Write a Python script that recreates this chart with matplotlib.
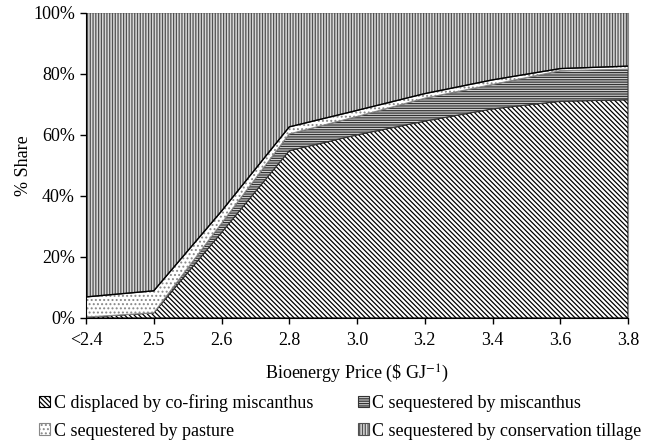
import numpy as np
import matplotlib
matplotlib.use('Agg')
import matplotlib.pyplot as plt

plt.rcParams['font.family'] = ['Liberation Serif', 'DejaVu Serif']
plt.rcParams['mathtext.fontset'] = 'stix'
plt.rcParams['hatch.linewidth'] = 0.9

# bioenergy price categories
prices = ['<2.4', '2.5', '2.6', '2.8', '3.0', '3.2', '3.4', '3.6', '3.8']
# % share for each carbon source (stacked from bottom)
cofiring = [0.3, 1.7, 28, 54.8, 60, 64.5, 68.5, 71, 71.5]
miscanthus = [0, 0, 3, 5.5, 6, 7.5, 8, 10, 10]
pasture = [6.6, 7.2, 4, 2.3, 2, 1.5, 1.5, 0.7, 1]
labels = ['C displaced by co-firing miscanthus', 'C sequestered by miscanthus',
          'C sequestered by pasture', 'C sequestered by conservation tillage']

x = np.arange(len(prices))
bottom1 = np.array(cofiring)
bottom2 = bottom1 + np.array(miscanthus)
bottom3 = bottom2 + np.array(pasture)

fig = plt.figure(figsize=(6.51, 4.43), dpi=100)
ax = fig.add_axes([0.1321, 0.2822, 0.8326, 0.6891])

h1 = ax.fill_between(x, 0, bottom1, facecolor='white', edgecolor='black', hatch='\\\\\\\\\\\\\\', lw=0.8)
h2 = ax.fill_between(x, bottom1, bottom2, facecolor='#d0d0d0', edgecolor='#333333', hatch='-------', lw=0.8)
h3 = ax.fill_between(x, bottom2, bottom3, facecolor='white', edgecolor='#888888', hatch='....', lw=0.8)
h4 = ax.fill_between(x, bottom3, 100, facecolor='#dadada', edgecolor='#505050', hatch='||||||', lw=0.8)
ax.plot(x, bottom3, color='black', lw=1)

ax.set_xlim(0, len(prices) - 1)
ax.set_ylim(0, 100)
ax.set_xticks(x)
ax.set_xticklabels(prices, fontsize=13)
ax.set_yticks(np.arange(0, 101, 20))
ax.set_yticklabels([str(v) + '%' for v in range(0, 101, 20)], fontsize=13)
ax.tick_params(direction='out', length=4, width=1, pad=4)
ax.tick_params(axis='x', pad=6)
ax.spines['top'].set_visible(False)
ax.spines['right'].set_color('#888888')
ax.set_ylabel('% Share', fontsize=13, labelpad=1)
ax.set_xlabel('Bioenergy Price (\\$ GJ$^{-1}$)', fontsize=13, labelpad=10)

# ncol fills column-wise, so order entries to get rows like the reference
fig.legend([h1, h3, h2, h4], [labels[0], labels[2], labels[1], labels[3]],
           loc='upper left', bbox_to_anchor=(0.06, 0.111), borderpad=0, borderaxespad=0,
           ncol=2, frameon=False, fontsize=13, handlelength=0.6, handleheight=0.6,
           handletextpad=0.2, columnspacing=2.5, labelspacing=0.6)

plt.savefig('out.png', dpi=100)
